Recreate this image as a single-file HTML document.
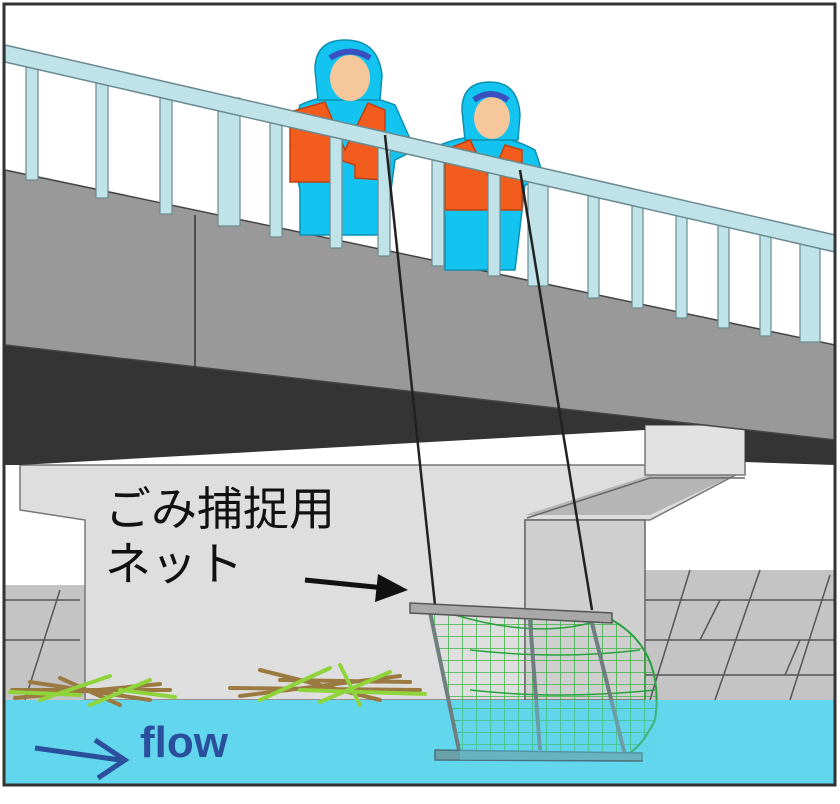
<!DOCTYPE html>
<html><head><meta charset="utf-8"><style>
html,body{margin:0;padding:0;background:#fff;width:840px;height:804px;overflow:hidden}
svg{display:block}
</style></head><body>
<svg width="840" height="804" viewBox="0 0 840 804" xmlns="http://www.w3.org/2000/svg">
<defs>
<pattern id="mesh" width="14" height="12" patternUnits="userSpaceOnUse">
<path d="M0 0H14M0 0V12" stroke="#2fae3a" stroke-width="1.6" fill="none"/>
</pattern>
</defs>
<rect x="0" y="0" width="840" height="804" fill="#fff"/>
<!-- background right stone wall -->
<rect x="600" y="570" width="236" height="135" fill="#c4c4c4"/>
<g stroke="#555" stroke-width="1.5" fill="none">
<path d="M640 600H836M640 640H836M640 675H836"/>
<path d="M690 570L650 700M760 570L715 700M830 575L790 700M720 600L700 640M800 640L785 675"/>
</g>
<!-- left stone wall -->
<rect x="5" y="585" width="80" height="115" fill="#c4c4c4"/>
<g stroke="#555" stroke-width="1.5" fill="none"><path d="M5 600H80M5 640H80M60 590L25 700M90 655H115"/></g>
<!-- pier -->
<path d="M20 465H745V470L650 520L525 520V700H85V520L20 510Z" fill="#dedede" stroke="#777" stroke-width="1.5"/>
<path d="M525 515L650 475H745V470L650 515Z" fill="#b5b5b5"/>
<path d="M525 520H645V700H525Z" fill="#cfcfcf" stroke="#666" stroke-width="1.5"/>
<path d="M645 425H745V475H645Z" fill="#e2e2e2" stroke="#777" stroke-width="1.5"/>
<path d="M527 518L650 478H745" fill="none" stroke="#666" stroke-width="1.5"/>
<!-- dark underside -->
<path d="M5 345L835 440V465L745 462V425H645V430L20 465H5Z" fill="#343434"/>
<!-- deck face -->
<path d="M5 170L835 345V440L5 345Z" fill="#999" stroke="#444" stroke-width="1.5"/>
<path d="M195 215V370" stroke="#333" stroke-width="1.5"/>
<!-- people -->
<g stroke="#0c8fb0" stroke-width="1.5">
<path d="M300 105Q345 85 395 105L415 150L395 160L385 235H300V190L290 145Z" fill="#14c4f0"/>
<path d="M315 70Q315 40 345 40Q378 40 382 75L380 100H318Z" fill="#14c4f0"/>
<ellipse cx="350" cy="78" rx="20" ry="23" fill="#f5c79a" stroke="none"/>
<path d="M330 58Q350 45 370 58" stroke="#3a50c0" stroke-width="6" fill="none"/>
<path d="M290 112L325 102L345 150L368 103L385 110V180L355 178V165L340 160V182H290Z" fill="#f25c1c" stroke="#c04010"/>
<path d="M440 145Q490 125 535 150L545 180L525 185L515 270H445V215L438 185Z" fill="#14c4f0"/>
<path d="M462 110Q462 82 490 82Q518 82 520 115L518 140H465Z" fill="#14c4f0"/>
<ellipse cx="492" cy="118" rx="18" ry="21" fill="#f5c79a" stroke="none"/>
<path d="M474 100Q490 88 508 100" stroke="#3a50c0" stroke-width="6" fill="none"/>
<path d="M445 150L470 140L490 180L505 145L522 150V210H445Z" fill="#f25c1c" stroke="#c04010"/>
</g>
<!-- railing posts -->
<g fill="#bfe3e8" stroke="#6a8a90" stroke-width="1.2">
<rect x="26" y="62" width="12" height="118"/>
<rect x="96" y="76" width="12" height="122"/>
<rect x="160" y="92" width="12" height="122"/>
<rect x="218" y="98" width="22" height="128"/>
<rect x="270" y="115" width="12" height="122"/>
<rect x="330" y="128" width="12" height="120"/>
<rect x="378" y="138" width="12" height="118"/>
<rect x="432" y="150" width="12" height="116"/>
<rect x="488" y="162" width="12" height="114"/>
<rect x="528" y="172" width="20" height="114"/>
<rect x="588" y="188" width="11" height="110"/>
<rect x="632" y="198" width="11" height="110"/>
<rect x="676" y="208" width="11" height="110"/>
<rect x="718" y="218" width="11" height="110"/>
<rect x="760" y="228" width="11" height="108"/>
<rect x="800" y="236" width="20" height="106"/>
</g>
<path d="M5 45L835 235L835 252L5 62Z" fill="#bfe3e8" stroke="#6a8a90" stroke-width="1.5"/>
<!-- ropes -->
<path d="M385 135L435 605M520 170L592 610" stroke="#222" stroke-width="2.5" fill="none"/>
<!-- water -->
<rect x="5" y="700" width="831" height="85" fill="#62d6ec"/>
<!-- debris -->
<g stroke-width="4" fill="none" stroke-linecap="round">
<path d="M12 690L170 690M30 682L150 700M60 678L120 705M15 698L160 684" stroke="#9a7a40"/>
<path d="M40 700L110 676M90 705L150 680M10 692L80 695M120 690L175 697" stroke="#8fd43a"/>
<path d="M230 688L420 690M260 670L380 700M280 680L410 682M240 696L400 676" stroke="#9a7a40"/>
<path d="M260 700L330 668M320 702L390 672M300 690L425 694M340 665L360 705" stroke="#8fd43a"/>
</g>
<!-- net -->
<path d="M430 612L612 620Q665 650 655 720Q640 750 625 755H460Z" fill="url(#mesh)" opacity="0.9"/>
<path d="M430 612L612 620Q665 650 655 720Q640 750 625 755H460Z" fill="none" stroke="#2aa040" stroke-width="2"/>
<path d="M455 615Q540 640 600 620M470 650Q560 660 640 650M470 690Q560 700 655 690" stroke="#2aa040" stroke-width="1.5" fill="none"/>
<g stroke="#6f7f80" stroke-width="4" fill="none">
<path d="M430 612L460 755M590 615L625 755M530 620L540 750"/>
</g>
<path d="M410 603L612 613L612 623L410 613Z" fill="#a8a8a8" stroke="#555" stroke-width="1.5"/>
<path d="M435 750L642 753L642 761L435 760Z" fill="#6aa0a8" stroke="#4a7080" stroke-width="1.5"/>
<rect x="460" y="700" width="200" height="60" fill="#62d6ec" opacity="0.35"/>
<!-- arrow -->
<path d="M305 580L385 588" stroke="#111" stroke-width="5"/>
<path d="M378 574L408 590L375 602Z" fill="#111"/>
<!-- labels -->
<text x="105" y="525" font-family="'Liberation Sans','Noto Sans CJK JP',sans-serif" font-size="46" fill="#111">ごみ捕捉用</text>
<text x="105" y="580" font-family="'Liberation Sans','Noto Sans CJK JP',sans-serif" font-size="46" fill="#111">ネット</text>
<text x="140" y="757" font-family="'Liberation Sans',sans-serif" font-size="44" font-weight="bold" fill="#2a4f9c">flow</text>
<path d="M35 748L120 760" stroke="#2a4f9c" stroke-width="5"/>
<path d="M95 740L125 760L98 778" stroke="#2a4f9c" stroke-width="5" fill="none"/>
<!-- frame -->
<rect x="4" y="4" width="831" height="781" fill="none" stroke="#333" stroke-width="3"/>
</svg>
</body></html>
